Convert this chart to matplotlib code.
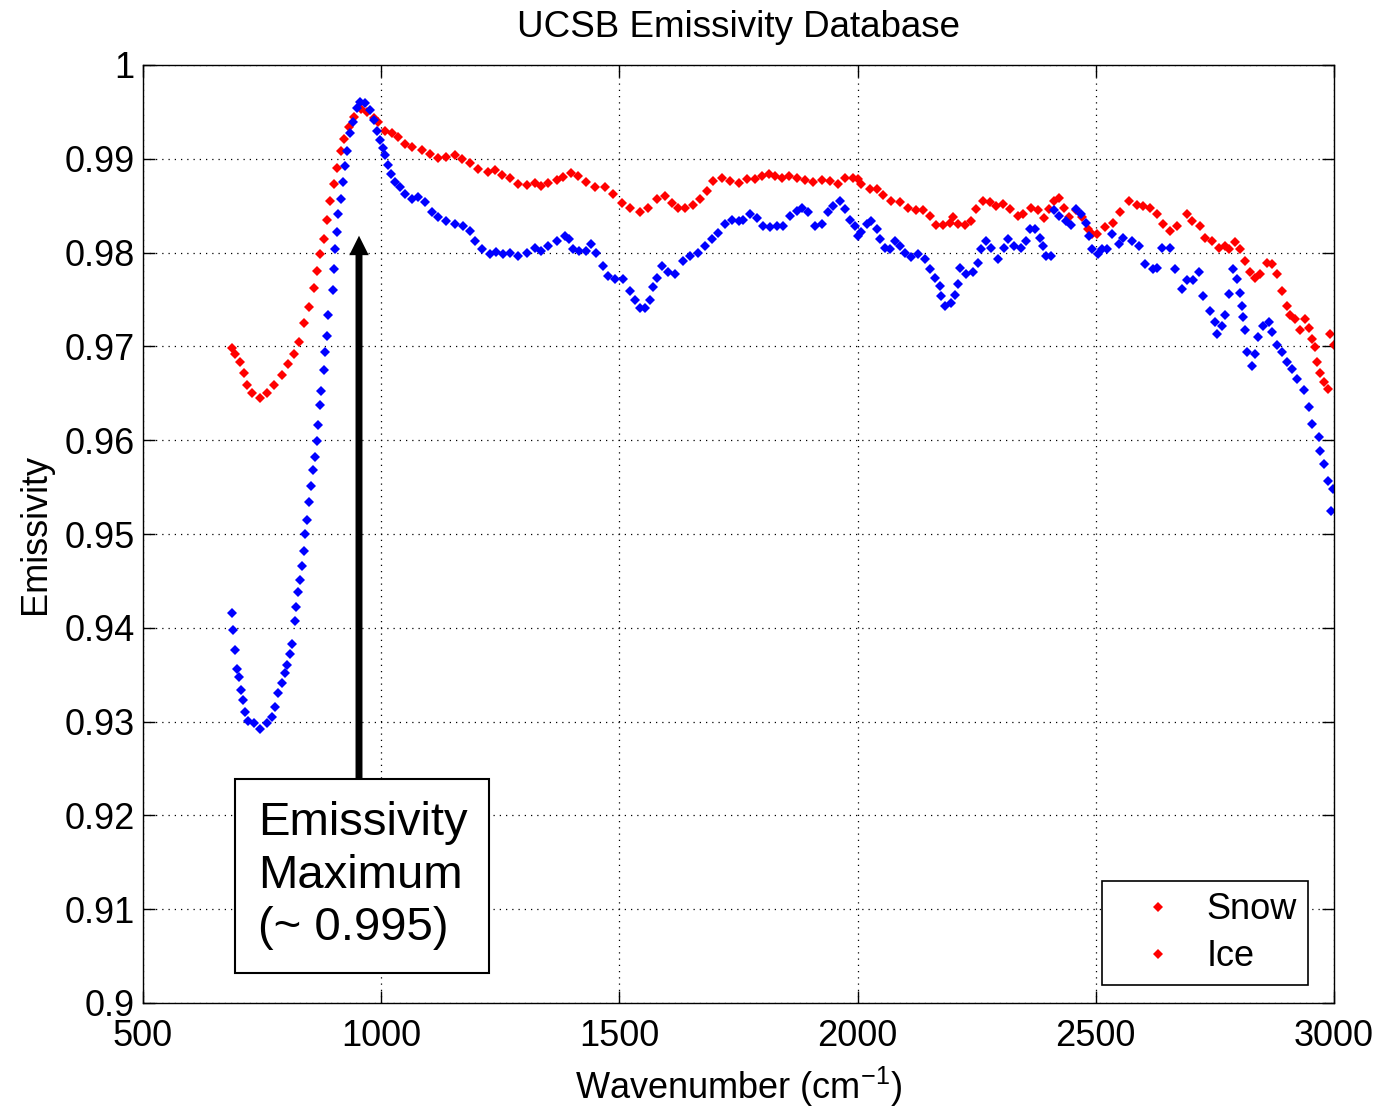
import matplotlib
matplotlib.use("Agg")
import matplotlib.pyplot as plt
from matplotlib.lines import Line2D
from matplotlib.patches import Rectangle
from matplotlib.ticker import FixedLocator, FixedFormatter

plt.rcParams['font.family'] = ['Liberation Sans', 'DejaVu Sans']
plt.rcParams['mathtext.default'] = 'regular'

# ---------------- data ----------------
snow_wn = [686, 693, 704, 711, 718, 728, 746, 760, 774, 791, 805, 816, 827, 837, 848, 858, 865, 872,
           879, 886, 893, 901, 908, 915, 922, 932, 943, 957, 971, 985, 994, 1008, 1022, 1036, 1050,
           1064, 1085, 1103, 1120, 1137, 1155, 1169, 1186, 1204, 1225, 1239, 1253, 1270, 1287, 1305,
           1322, 1336, 1350, 1368, 1382, 1399, 1413, 1430, 1448, 1469, 1486, 1505, 1522, 1543, 1561,
           1579, 1596, 1610, 1624, 1638, 1655, 1669, 1683, 1697, 1715, 1732, 1750, 1767, 1785, 1799,
           1813, 1827, 1841, 1855, 1872, 1890, 1907, 1925, 1942, 1959, 1973, 1991, 2001, 2008, 2026,
           2040, 2054, 2071, 2089, 2106, 2123, 2137, 2151, 2165, 2179, 2193, 2200, 2211, 2225, 2239,
           2249, 2263, 2277, 2291, 2305, 2319, 2336, 2347, 2364, 2378, 2392, 2402, 2413, 2423, 2434,
           2444, 2458, 2472, 2483, 2493, 2502, 2520, 2537, 2551, 2569, 2586, 2600, 2614, 2628, 2642,
           2656, 2670, 2691, 2702, 2719, 2730, 2744, 2758, 2772, 2779, 2793, 2803, 2814, 2824, 2835,
           2845, 2859, 2870, 2880, 2891, 2901, 2908, 2919, 2929, 2940, 2947, 2954, 2961, 2964, 2971,
           2978, 2988, 2992, 2999]
snow_em = [0.9698, 0.9692, 0.9683, 0.9672, 0.9659, 0.9650, 0.9645, 0.9650, 0.9659, 0.9670, 0.9681,
           0.9692, 0.9705, 0.9725, 0.9742, 0.9762, 0.9780, 0.9798, 0.9815, 0.9835, 0.9855, 0.9873,
           0.9890, 0.9908, 0.9921, 0.9934, 0.9945, 0.9953, 0.9950, 0.9943, 0.9939, 0.9930, 0.9927,
           0.9923, 0.9916, 0.9913, 0.9909, 0.9905, 0.9901, 0.9902, 0.9904, 0.9900, 0.9896, 0.9889,
           0.9886, 0.9888, 0.9883, 0.9879, 0.9873, 0.9872, 0.9874, 0.9871, 0.9874, 0.9877, 0.9881,
           0.9885, 0.9882, 0.9875, 0.9870, 0.9870, 0.9862, 0.9853, 0.9848, 0.9843, 0.9848, 0.9857,
           0.9860, 0.9853, 0.9848, 0.9848, 0.9851, 0.9857, 0.9866, 0.9876, 0.9880, 0.9876, 0.9874,
           0.9878, 0.9878, 0.9882, 0.9884, 0.9882, 0.9880, 0.9882, 0.9880, 0.9877, 0.9875, 0.9877,
           0.9876, 0.9873, 0.9879, 0.9880, 0.9878, 0.9873, 0.9868, 0.9868, 0.9861, 0.9855, 0.9854,
           0.9848, 0.9845, 0.9845, 0.9839, 0.9829, 0.9829, 0.9832, 0.9838, 0.9830, 0.9829, 0.9834,
           0.9846, 0.9855, 0.9854, 0.9850, 0.9852, 0.9846, 0.9839, 0.9841, 0.9848, 0.9845, 0.9837,
           0.9846, 0.9855, 0.9858, 0.9848, 0.9838, 0.9845, 0.9838, 0.9825, 0.9820, 0.9820, 0.9827,
           0.9832, 0.9843, 0.9855, 0.9851, 0.9850, 0.9848, 0.9841, 0.9830, 0.9823, 0.9828, 0.9841,
           0.9834, 0.9828, 0.9816, 0.9812, 0.9805, 0.9807, 0.9804, 0.9811, 0.9804, 0.9791, 0.9779,
           0.9773, 0.9777, 0.9789, 0.9788, 0.9777, 0.9759, 0.9743, 0.9733, 0.9729, 0.9718, 0.9729,
           0.9720, 0.9708, 0.9699, 0.9683, 0.9672, 0.9662, 0.9655, 0.9713, 0.9701]

ice_wn = [686, 688, 693, 697, 702, 705, 709, 714, 721, 732, 746, 760, 770, 777, 784, 791, 798, 802,
          809, 812, 819, 821, 826, 830, 833, 837, 840, 845, 849, 852, 856, 861, 865, 867, 871, 874,
          880, 882, 887, 889, 898, 900, 903, 907, 910, 915, 919, 924, 928, 934, 940, 949, 956, 967,
          977, 985, 992, 998, 1003, 1008, 1015, 1021, 1029, 1040, 1050, 1064, 1078, 1092, 1106, 1120,
          1137, 1155, 1172, 1186, 1197, 1211, 1228, 1242, 1256, 1270, 1287, 1305, 1322, 1336, 1350,
          1368, 1385, 1395, 1402, 1416, 1430, 1441, 1451, 1465, 1476, 1491, 1508, 1522, 1533, 1543,
          1554, 1564, 1571, 1578, 1589, 1603, 1617, 1634, 1648, 1666, 1680, 1694, 1708, 1722, 1736,
          1750, 1760, 1774, 1788, 1802, 1816, 1830, 1844, 1858, 1872, 1883, 1896, 1911, 1925, 1938,
          1949, 1963, 1973, 1984, 1994, 2001, 2008, 2019, 2029, 2040, 2047, 2057, 2068, 2078, 2089,
          2099, 2113, 2127, 2141, 2151, 2162, 2172, 2176, 2183, 2197, 2204, 2211, 2214, 2228, 2242,
          2252, 2259, 2270, 2280, 2294, 2308, 2315, 2329, 2343, 2354, 2361, 2372, 2382, 2389, 2395,
          2406, 2413, 2423, 2437, 2448, 2458, 2469, 2479, 2486, 2493, 2504, 2514, 2523, 2534, 2548,
          2558, 2576, 2590, 2604, 2621, 2628, 2639, 2656, 2667, 2681, 2691, 2705, 2716, 2726, 2740,
          2751, 2754, 2764, 2772, 2779, 2788, 2796, 2803, 2807, 2810, 2814, 2817, 2827, 2835, 2841,
          2852, 2863, 2870, 2880, 2891, 2901, 2912, 2922, 2936, 2947, 2954, 2968, 2971, 2978, 2988,
          2993, 2997]
ice_em = [0.9416, 0.9398, 0.9376, 0.9356, 0.9348, 0.9334, 0.9323, 0.9310, 0.9301, 0.9299, 0.9292,
          0.9299, 0.9305, 0.9316, 0.9330, 0.9341, 0.9352, 0.9360, 0.9372, 0.9383, 0.9407, 0.9422,
          0.9438, 0.9451, 0.9466, 0.9482, 0.9500, 0.9515, 0.9534, 0.9551, 0.9568, 0.9582, 0.9599,
          0.9616, 0.9638, 0.9652, 0.9675, 0.9694, 0.9711, 0.9734, 0.9760, 0.9783, 0.9804, 0.9822,
          0.9841, 0.9857, 0.9875, 0.9892, 0.9908, 0.9928, 0.9939, 0.9954, 0.9961, 0.9959, 0.9952,
          0.9941, 0.9930, 0.9920, 0.9911, 0.9904, 0.9893, 0.9884, 0.9875, 0.9870, 0.9862, 0.9857,
          0.9859, 0.9854, 0.9843, 0.9838, 0.9834, 0.9830, 0.9828, 0.9823, 0.9812, 0.9804, 0.9798,
          0.9801, 0.9799, 0.9800, 0.9796, 0.9800, 0.9805, 0.9802, 0.9807, 0.9812, 0.9818, 0.9814,
          0.9804, 0.9802, 0.9802, 0.9809, 0.9800, 0.9786, 0.9775, 0.9772, 0.9772, 0.9759, 0.9750,
          0.9741, 0.9741, 0.9750, 0.9763, 0.9773, 0.9786, 0.9779, 0.9777, 0.9791, 0.9796, 0.9800,
          0.9807, 0.9814, 0.9821, 0.9830, 0.9835, 0.9834, 0.9835, 0.9841, 0.9837, 0.9828, 0.9827,
          0.9828, 0.9828, 0.9839, 0.9844, 0.9848, 0.9843, 0.9828, 0.9830, 0.9843, 0.9850, 0.9855,
          0.9846, 0.9835, 0.9828, 0.9818, 0.9822, 0.9830, 0.9834, 0.9825, 0.9814, 0.9805, 0.9804,
          0.9812, 0.9807, 0.9800, 0.9795, 0.9798, 0.9793, 0.9782, 0.9773, 0.9764, 0.9754, 0.9743,
          0.9746, 0.9755, 0.9766, 0.9784, 0.9777, 0.9779, 0.9789, 0.9804, 0.9812, 0.9805, 0.9793,
          0.9805, 0.9814, 0.9807, 0.9805, 0.9812, 0.9825, 0.9825, 0.9816, 0.9807, 0.9796, 0.9796,
          0.9845, 0.9839, 0.9834, 0.9829, 0.9846, 0.9841, 0.9832, 0.9818, 0.9804, 0.9798, 0.9804,
          0.9804, 0.9820, 0.9809, 0.9816, 0.9812, 0.9807, 0.9788, 0.9782, 0.9784, 0.9805, 0.9805,
          0.9782, 0.9761, 0.9771, 0.9771, 0.9779, 0.9754, 0.9738, 0.9726, 0.9713, 0.9722, 0.9733,
          0.9756, 0.9782, 0.9772, 0.9757, 0.9743, 0.9731, 0.9717, 0.9694, 0.9679, 0.9692, 0.9710,
          0.9722, 0.9726, 0.9715, 0.9702, 0.9694, 0.9683, 0.9676, 0.9665, 0.9653, 0.9635, 0.9617,
          0.9603, 0.9589, 0.9575, 0.9557, 0.9525, 0.9548]

x_ticks = [500, 1000, 1500, 2000, 2500, 3000]
x_labels = ['500', '1000', '1500', '2000', '2500', '3000']
y_ticks = [0.90, 0.91, 0.92, 0.93, 0.94, 0.95, 0.96, 0.97, 0.98, 0.99, 1.00]
y_labels = ['0.9', '0.91', '0.92', '0.93', '0.94', '0.95', '0.96', '0.97', '0.98', '0.99', '1']
legend_labels = ['Snow', 'Ice']
annot_text = "Emissivity\nMaximum\n(~ 0.995)"

# ---------------- figure ----------------
W, H = 1382, 1107
fig = plt.figure(figsize=(W / 100, H / 100), dpi=100)
ax = fig.add_axes([143 / W, 1 - 1003 / H, (1334 - 143) / W, (1003 - 65) / H])

MK = 'D'
MS = 4.6
ax.plot(snow_wn, snow_em, linestyle='none', marker=MK, markersize=MS,
        color='#ff0000', markeredgewidth=0)
ax.plot(ice_wn, ice_em, linestyle='none', marker=MK, markersize=MS,
        color='#0000ff', markeredgewidth=0)

ax.set_xlim(500, 3000)
ax.set_ylim(0.9, 1.0)
ax.xaxis.set_major_locator(FixedLocator(x_ticks))
ax.xaxis.set_major_formatter(FixedFormatter(x_labels))
ax.yaxis.set_major_locator(FixedLocator(y_ticks))
ax.yaxis.set_major_formatter(FixedFormatter(y_labels))

ax.grid(True, color='black', linestyle=(0, (1, 4)), linewidth=0.9)
ax.tick_params(direction='in', length=8.5, width=1.0, top=True, right=True,
               labelsize=26)
ax.tick_params(axis='x', pad=11.5)
ax.tick_params(axis='y', pad=6)
for s in ax.spines.values():
    s.set_linewidth(1.0)

ax.set_title('UCSB Emissivity Database', fontsize=26.5, pad=20.5)
ax.set_xlabel('Wavenumber (cm$^{-1}$)', fontsize=26, labelpad=7.5)
ax.set_ylabel('Emissivity', fontsize=26, labelpad=8)

# annotation arrow and box
ax.annotate('', xy=(953.4, 0.9818), xytext=(953.4, 0.9239),
            arrowprops=dict(facecolor='black', edgecolor='none', width=5,
                            headwidth=14, headlength=14, shrink=0))
ax.add_patch(Rectangle((693, 0.9032), 1226 - 693, 0.9239 - 0.9032,
                       facecolor='white', edgecolor='black', linewidth=1.5, zorder=5))
ax.text(741, 0.91355, annot_text, fontsize=34, va='center', ha='left',
        linespacing=1.25, zorder=6)

handles = [Line2D([], [], linestyle='none', marker=MK, markersize=MS,
                  color='#ff0000', markeredgewidth=0) for _ in legend_labels]
leg = ax.legend(handles, legend_labels, loc='lower right',
                bbox_to_anchor=((1308 - 143) / 1191, (1003 - 985) / 938),
                borderaxespad=0, fontsize=26, fancybox=False, framealpha=1,
                edgecolor='black', handlelength=2.5, handletextpad=0.1,
                labelspacing=0.33, borderpad=0.3)
leg.get_frame().set_linewidth(1.2)

fig.savefig('out.png', dpi=100)
